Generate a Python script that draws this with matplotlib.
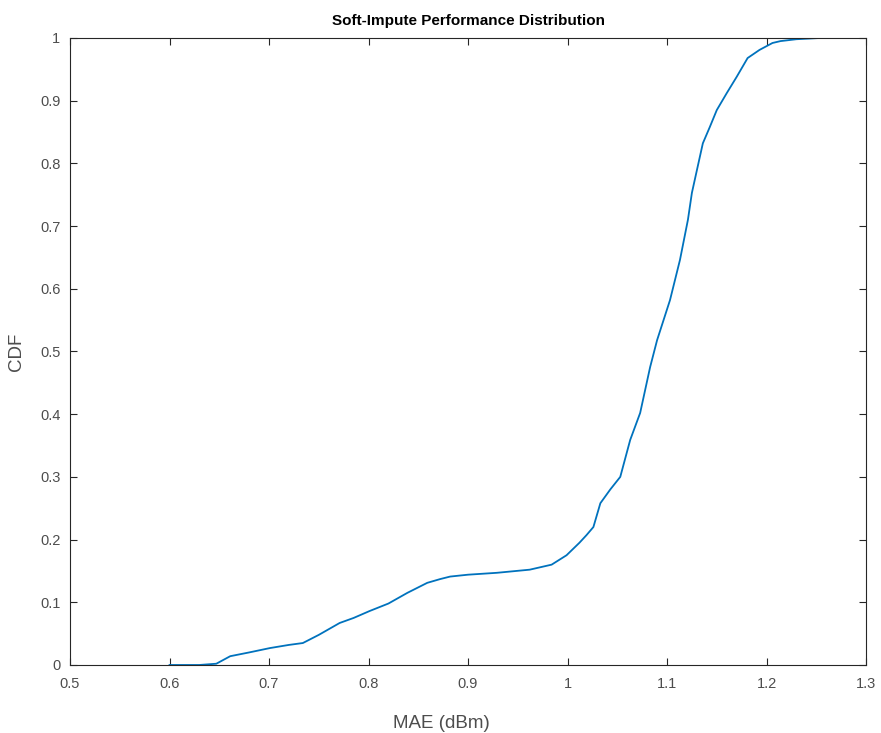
import matplotlib.pyplot as plt

# CDF points
mae = [0.60, 0.63, 0.647, 0.661, 0.68, 0.701, 0.72, 0.734, 0.75, 0.771, 0.785, 0.801,
       0.82, 0.839, 0.859, 0.872, 0.882, 0.90, 0.929, 0.962, 0.984, 0.999, 1.012,
       1.019, 1.026, 1.033, 1.043, 1.053, 1.063, 1.073, 1.083, 1.090, 1.103, 1.113,
       1.121, 1.125, 1.130, 1.136, 1.143, 1.150, 1.160, 1.170, 1.181, 1.193, 1.206,
       1.214, 1.230, 1.254]
cdf = [0.0, 0.0, 0.002, 0.014, 0.020, 0.027, 0.032, 0.035, 0.048, 0.067, 0.075, 0.086,
       0.098, 0.115, 0.131, 0.137, 0.141, 0.144, 0.147, 0.152, 0.160, 0.175, 0.195,
       0.207, 0.220, 0.258, 0.280, 0.300, 0.359, 0.402, 0.475, 0.518, 0.582, 0.646,
       0.710, 0.753, 0.789, 0.832, 0.858, 0.885, 0.912, 0.938, 0.968, 0.981, 0.992,
       0.995, 0.998, 1.0]

xticks = [0.5, 0.6, 0.7, 0.8, 0.9, 1.0, 1.1, 1.2, 1.3]
xlabels = ["0.5", "0.6", "0.7", "0.8", "0.9", "1", "1.1", "1.2", "1.3"]
yticks = [0, 0.1, 0.2, 0.3, 0.4, 0.5, 0.6, 0.7, 0.8, 0.9, 1.0]
ylabels = ["0", "0.1", "0.2", "0.3", "0.4", "0.5", "0.6", "0.7", "0.8", "0.9", "1"]

plt.rcParams['font.family'] = ['Liberation Sans', 'DejaVu Sans']

fig = plt.figure(figsize=(8.81, 7.33), dpi=100)
ax = fig.add_axes([0.0795, 0.0928, 0.9035, 0.8554])
ax.plot(mae, cdf, color='#0072BD', linewidth=1.3)

ax.set_xlim(0.5, 1.3)
ax.set_ylim(0, 1)
ax.set_xticks(xticks)
ax.set_xticklabels(xlabels)
ax.set_yticks(yticks)
ax.set_yticklabels(ylabels)
ax.tick_params(direction='in', top=True, right=True, length=5, width=0.8,
               labelsize=10.5, colors='#262626', labelcolor='#4d4d4d')
ax.tick_params(axis='x', pad=9)
ax.tick_params(axis='y', pad=7)
for s in ax.spines.values():
    s.set_linewidth(0.8)
    s.set_color('#262626')

ax.set_xlabel("MAE (dBm)", fontsize=13.5, color='#4d4d4d')
ax.xaxis.set_label_coords((441 - 70) / 796, -0.08)
ax.set_ylabel("CDF", fontsize=13.5, color='#4d4d4d')
ax.yaxis.set_label_coords(-0.0565, 0.5)
ax.set_title("Soft-Impute Performance Distribution", fontsize=11, fontweight='bold', pad=9)

fig.savefig("out.png", dpi=100)
